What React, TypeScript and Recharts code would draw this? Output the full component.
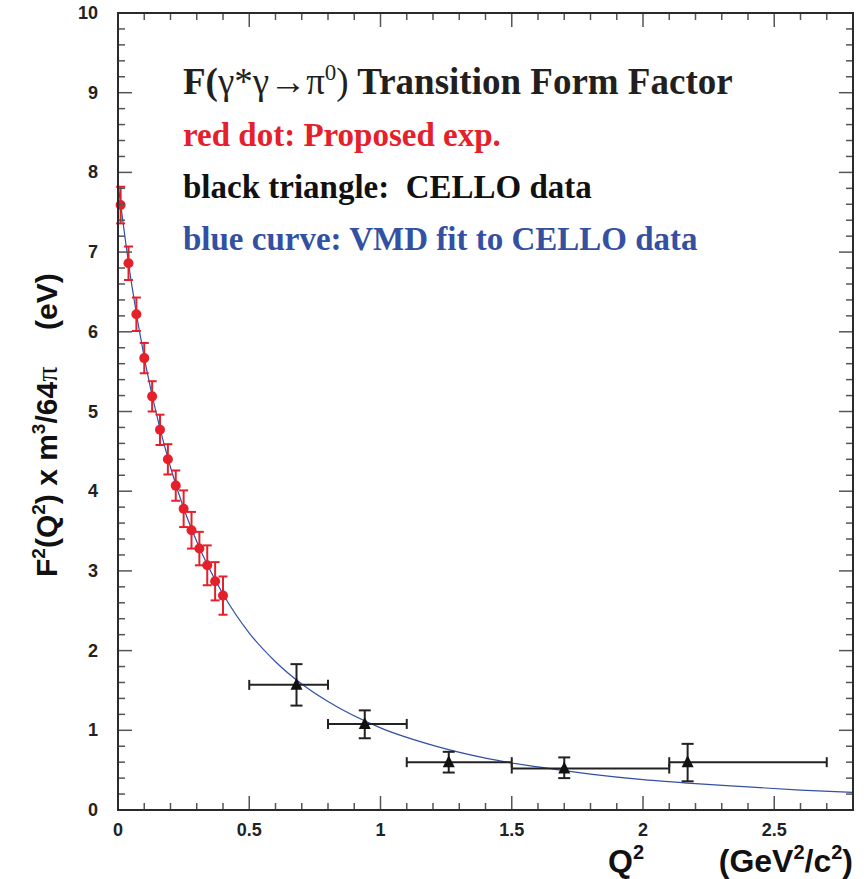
import React from 'react';
import { ComposedChart, Line, Scatter, XAxis, YAxis, ErrorBar } from 'recharts';

// red dots: proposed experiment
const redQ2 = [0.01, 0.04, 0.07, 0.10, 0.13, 0.16, 0.19, 0.22, 0.25, 0.28, 0.31, 0.34, 0.37, 0.40];
const redF = [7.59, 6.86, 6.22, 5.67, 5.19, 4.77, 4.40, 4.07, 3.78, 3.51, 3.28, 3.07, 2.87, 2.69];
const redErr = [0.23, 0.21, 0.21, 0.19, 0.19, 0.19, 0.19, 0.19, 0.23, 0.23, 0.21, 0.25, 0.24, 0.24];

// black triangles: CELLO data
const celloQ2 = [0.68, 0.94, 1.26, 1.70, 2.17];
const celloF = [1.57, 1.08, 0.60, 0.52, 0.60];
const celloQ2Lo = [0.50, 0.80, 1.10, 1.50, 2.10];
const celloQ2Hi = [0.80, 1.10, 1.50, 2.10, 2.70];
const celloFLo = [1.31, 0.90, 0.47, 0.40, 0.36];
const celloFHi = [1.83, 1.25, 0.73, 0.66, 0.83];

// blue curve: VMD fit
const curveQ2 = [0, 0.05, 0.1, 0.15, 0.2, 0.25, 0.3, 0.4, 0.5, 0.6, 0.7, 0.8, 1.0, 1.2, 1.4, 1.6, 1.8, 2.0, 2.2, 2.4, 2.6, 2.8];
const curveF = [7.86, 6.64, 5.68, 4.92, 4.30, 3.79, 3.37, 2.71, 2.22, 1.86, 1.58, 1.36, 1.03, 0.81, 0.65, 0.54, 0.45, 0.38, 0.33, 0.29, 0.25, 0.22];

const xMajor = [0, 0.5, 1, 1.5, 2, 2.5];
const xLabels = ['0', '0.5', '1', '1.5', '2', '2.5'];
const yMajor = [0, 1, 2, 3, 4, 5, 6, 7, 8, 9, 10];
const yLabels = ['0', '1', '2', '3', '4', '5', '6', '7', '8', '9', '10'];
const xMax = 2.8;
const yMax = 10;

// minor ticks every 0.1 on x, 0.2 on y
const xTicks = Array.from({ length: 28 }, (_, i) => i / 10);
const yTicks = Array.from({ length: 51 }, (_, i) => Math.round(i * 2) / 10);

const W = 866;
const H = 879;
const M = { top: 13, right: 13, left: 118, bottom: 69 };
const red = '#e5202a';
const blue = '#3350a3';
const frame = '#2b2b2b';
const tickCol = '#555';
const sans = "'Liberation Sans', Arial, Helvetica, sans-serif";
const serif = "'Liberation Serif', 'Times New Roman', Times, serif";

const near = (list: number[], v: number) => list.findIndex(m => Math.abs(m - v) < 1e-6);

const BottomTick = (props: any) => {
  const { x, y, payload } = props;
  const i = near(xMajor, payload.value);
  const major = i >= 0;
  return (
    <g>
      <line x1={x} y1={y} x2={x} y2={y - (major ? 14 : 7)} stroke={tickCol} strokeWidth={1.5} />
      {major && (
        <text x={x} y={y + 26} textAnchor="middle" fontSize={18} fontWeight="bold" fontFamily={sans} fill="#222">
          {xLabels[i]}
        </text>
      )}
    </g>
  );
};

const LeftTick = (props: any) => {
  const { x, y, payload } = props;
  const i = near(yMajor, payload.value);
  const major = i >= 0;
  return (
    <g>
      <line x1={x} y1={y} x2={x + (major ? 14 : 7)} y2={y} stroke={tickCol} strokeWidth={1.5} />
      {major && (
        <text x={x - 20} y={y + 6} textAnchor="end" fontSize={18} fontWeight="bold" fontFamily={sans} fill="#222">
          {yLabels[i]}
        </text>
      )}
    </g>
  );
};

// tick marks hanging from the top edge and the right edge of the frame
const TopMark = (props: any) => {
  const { cx, cy, payload } = props;
  return <line x1={cx} y1={cy} x2={cx} y2={cy + payload.len} stroke={tickCol} strokeWidth={1.5} />;
};
const RightMark = (props: any) => {
  const { cx, cy, payload } = props;
  return <line x1={cx} y1={cy} x2={cx - payload.len} y2={cy} stroke={tickCol} strokeWidth={1.5} />;
};

const Dot = (props: any) => <circle cx={props.cx} cy={props.cy} r={5} fill={red} />;
const Triangle = (props: any) => {
  const { cx, cy } = props;
  return <polygon points={`${cx - 6},${cy + 5} ${cx + 6},${cy + 5} ${cx},${cy - 7}`} fill="#111" />;
};

const App: React.FC = () => {
  const redData = redQ2.map((q, i) => ({ q2: q, f: redF[i], err: redErr[i] }));
  const celloData = celloQ2.map((q, i) => ({
    q2: q,
    f: celloF[i],
    xErr: [q - celloQ2Lo[i], celloQ2Hi[i] - q],
    yErr: [celloF[i] - celloFLo[i], celloFHi[i] - celloF[i]],
  }));
  const curveData = curveQ2.map((q, i) => ({ q2: q, f: curveF[i] }));
  const topMarks = xTicks.map(t => ({ q2: t, f: yMax, len: near(xMajor, t) >= 0 ? 14 : 7 }));
  const rightMarks = yTicks.map(t => ({ q2: xMax, f: t, len: near(yMajor, t) >= 0 ? 14 : 7 }));

  return (
    <div style={{ position: 'absolute', left: 0, top: 0, width: W, height: H, background: '#fff' }}>
      <ComposedChart width={W} height={H} margin={{ top: M.top, right: M.right, bottom: 0, left: 0 }}>
        <XAxis
          dataKey="q2"
          type="number"
          domain={[0, xMax]}
          ticks={xTicks}
          interval={0}
          height={M.bottom}
          tickSize={0}
          tickMargin={0}
          tickLine={false}
          tick={<BottomTick />}
          axisLine={{ stroke: frame, strokeWidth: 2 }}
        />
        <YAxis
          dataKey="f"
          type="number"
          domain={[0, yMax]}
          ticks={yTicks}
          interval={0}
          width={M.left}
          tickSize={0}
          tickMargin={0}
          tickLine={false}
          tick={<LeftTick />}
          axisLine={{ stroke: frame, strokeWidth: 2 }}
        />
        <Line
          data={curveData}
          dataKey="f"
          type="monotone"
          stroke={blue}
          strokeWidth={1.2}
          dot={false}
          isAnimationActive={false}
        />
        <Scatter data={redData} dataKey="f" shape={<Dot />} isAnimationActive={false}>
          <ErrorBar dataKey="err" direction="y" width={4.5} stroke={red} strokeWidth={2} />
        </Scatter>
        <Scatter data={celloData} dataKey="f" shape={<Triangle />} isAnimationActive={false}>
          <ErrorBar dataKey="xErr" direction="x" width={5} stroke="#222" strokeWidth={2} />
          <ErrorBar dataKey="yErr" direction="y" width={6} stroke="#222" strokeWidth={2} />
        </Scatter>
        <Scatter data={topMarks} dataKey="f" shape={<TopMark />} isAnimationActive={false} />
        <Scatter data={rightMarks} dataKey="f" shape={<RightMark />} isAnimationActive={false} />
      </ComposedChart>

      <svg width={W} height={H} style={{ position: 'absolute', left: 0, top: 0, pointerEvents: 'none' }}>
        {/* plot frame */}
        <rect
          x={M.left}
          y={M.top}
          width={W - M.left - M.right}
          height={H - M.top - M.bottom}
          fill="none"
          stroke={frame}
          strokeWidth={2}
        />

        <text x={183} y={94} fontFamily={serif} fontSize={37} fill="#231f20">
          <tspan fontWeight="bold">F(</tspan>
          <tspan>γ*γ→π</tspan>
          <tspan dy={-14} fontSize={23}>0</tspan>
          <tspan dy={14}>)</tspan>
          <tspan fontWeight="bold"> Transition Form Factor</tspan>
        </text>
        <text x={183} y={146} fontFamily={serif} fontSize={33} fontWeight="bold" fill={red}>
          red dot: Proposed exp.
        </text>
        <text x={183} y={198} fontFamily={serif} fontSize={33} fontWeight="bold" fill="#111">
          {'black triangle:\u00a0 CELLO data'}
        </text>
        <text x={183} y={250} fontFamily={serif} fontSize={33} fontWeight="bold" fill={blue}>
          blue curve: VMD fit to CELLO data
        </text>

        <g transform="rotate(-90, 57, 577)">
          <text x={57} y={577} fontFamily={sans} fontSize={30} fontWeight="bold" fill="#111">
            <tspan>F</tspan>
            <tspan dy={-12} fontSize={19}>2</tspan>
            <tspan dy={12}>(Q</tspan>
            <tspan dy={-12} fontSize={19}>2</tspan>
            <tspan dy={12}>) x m</tspan>
            <tspan dy={-12} fontSize={19}>3</tspan>
            <tspan dy={12}>/64</tspan>
            <tspan fontWeight="normal" fontFamily={serif}>π</tspan>
          </text>
          <text x={57 + 247} y={577} fontFamily={sans} fontSize={30} fontWeight="bold" fill="#111">
            (eV)
          </text>
        </g>

        <text x={608} y={872} fontFamily={sans} fontSize={32} fontWeight="bold" fill="#111">
          <tspan>Q</tspan>
          <tspan dy={-13} fontSize={20}>2</tspan>
        </text>
        <text x={853} y={872} textAnchor="end" fontFamily={sans} fontSize={32} fontWeight="bold" fill="#111">
          <tspan>(GeV</tspan>
          <tspan dy={-13} fontSize={20}>2</tspan>
          <tspan dy={13}>/c</tspan>
          <tspan dy={-13} fontSize={20}>2</tspan>
          <tspan dy={13}>)</tspan>
        </text>
      </svg>
    </div>
  );
};

export default App;
